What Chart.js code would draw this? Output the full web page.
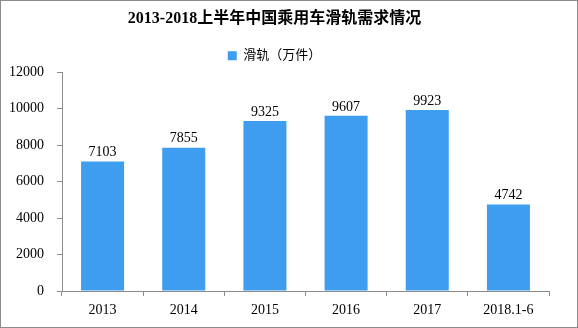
<!DOCTYPE html>
<html>
<head>
<meta charset="utf-8">
<script src="https://cdn.jsdelivr.net/npm/chart.js@4"></script>
<style>
  html, body { margin: 0; padding: 0; background: #fff; }
  #wrap { width: 578px; height: 328px; position: relative; }
</style>
</head>
<body>
<div id="wrap"><canvas id="chart" width="578" height="328"></canvas></div>
<script>
// data
var years = ['2013', '2014', '2015', '2016', '2017', '2018.1-6'];
var demand = [7103, 7855, 9325, 9607, 9923, 4742];
var yTicks = [0, 2000, 4000, 6000, 8000, 10000, 12000];

var serif = '"Liberation Serif", "Noto Sans CJK SC", serif';

// frame around the whole picture + value labels over bars
var extras = {
  id: 'extras',
  afterDraw: function (chart) {
    var c = chart.ctx;
    c.save();
    c.strokeStyle = '#8c8c8c';
    c.lineWidth = 1;
    c.strokeRect(0.5, 0.5, chart.width - 1, chart.height - 1);

    var meta = chart.getDatasetMeta(0);
    c.fillStyle = '#000';
    c.font = '14px ' + serif;
    c.textAlign = 'center';
    c.textBaseline = 'bottom';
    meta.data.forEach(function (bar, i) {
      c.fillText(String(demand[i]), bar.x, bar.y - 2);
    });
    c.restore();
  }
};

new Chart(document.getElementById('chart').getContext('2d'), {
  type: 'bar',
  data: {
    labels: years,
    datasets: [{
      label: '滑轨（万件）',
      data: demand,
      backgroundColor: '#3f9df0',
      borderWidth: 0,
      categoryPercentage: 1,
      barPercentage: 0.53
    }]
  },
  options: {
    responsive: false,
    animation: false,
    layout: { padding: { left: 0, right: 29, top: 0, bottom: 0 } },
    scales: {
      x: {
        grid: { display: true, drawOnChartArea: false, offset: true, color: '#8c8c8c', tickLength: 5 },
        border: { color: '#8c8c8c' },
        ticks: { color: '#000', font: { family: serif, size: 14 }, padding: 6, maxRotation: 0 },
        afterFit: function (s) { s.height = 37; }
      },
      y: {
        min: 0,
        max: 12000,
        afterBuildTicks: function (s) {
          s.ticks = yTicks.map(function (v) { return { value: v }; });
        },
        grid: { display: true, drawOnChartArea: false, color: '#8c8c8c', tickLength: 5 },
        border: { color: '#8c8c8c' },
        ticks: {
          color: '#000',
          font: { family: serif, size: 14 },
          padding: 13,
          callback: function (v) { return String(v); }
        },
        afterFit: function (s) { s.width = 62; }
      }
    },
    plugins: {
      title: {
        display: true,
        text: '2013-2018上半年中国乘用车滑轨需求情况',
        color: '#000',
        font: { family: serif, size: 16, weight: 'bold' },
        padding: { top: 9, bottom: 14 }
      },
      legend: {
        display: true,
        labels: {
          color: '#000',
          font: { family: serif, size: 13 },
          boxWidth: 9,
          boxHeight: 9,
          padding: 7
        }
      },
      tooltip: { enabled: false }
    }
  },
  plugins: [extras]
});
</script>
</body>
</html>
